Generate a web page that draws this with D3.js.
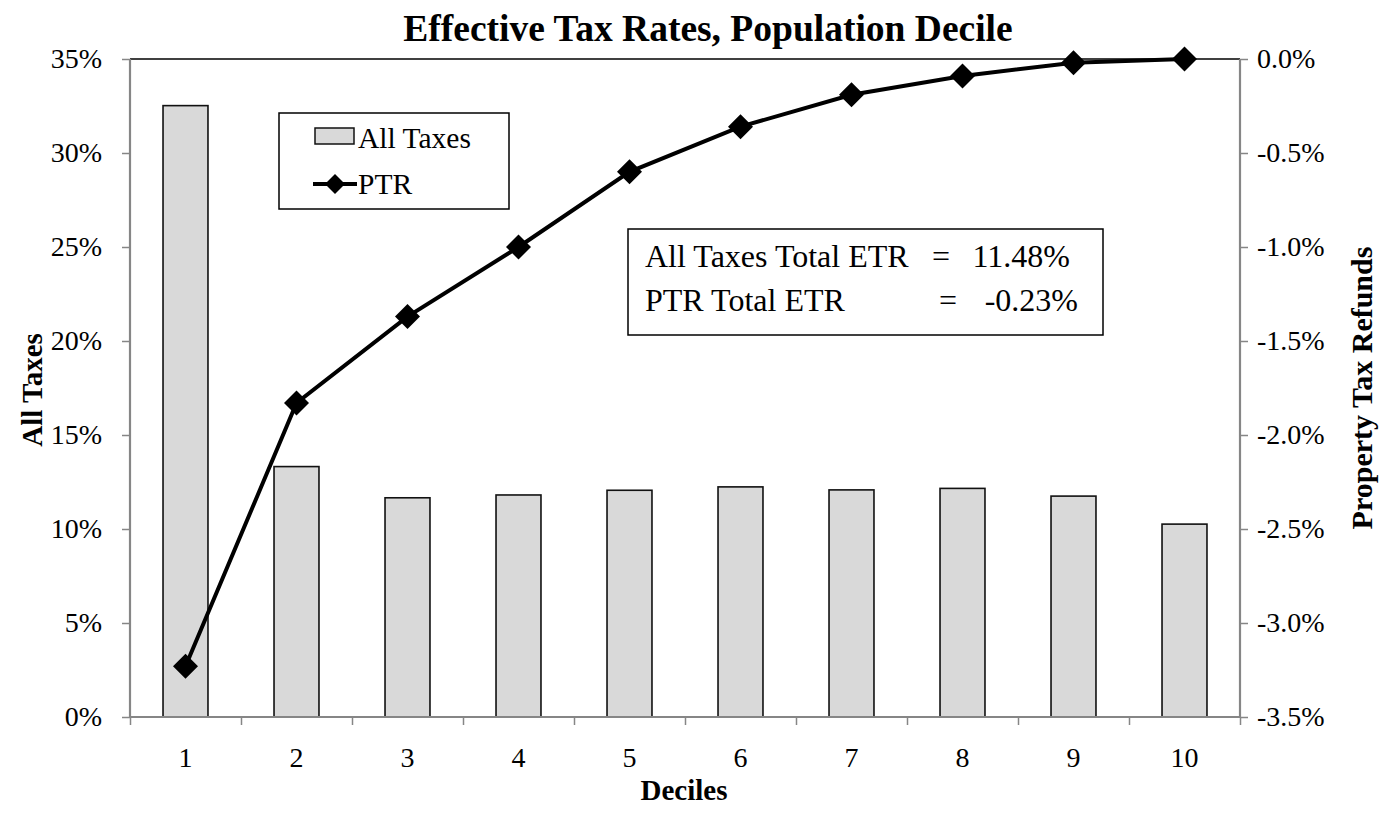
<!DOCTYPE html>
<html>
<head>
<meta charset="utf-8">
<script src="https://cdn.jsdelivr.net/npm/d3@7"></script>
<style>
  body { margin: 0; background: #fff; }
  svg { display: block; font-family: "Liberation Serif", "Times New Roman", serif; }
</style>
</head>
<body>
<svg id="chart" width="1390" height="823"></svg>
<script>
const deciles = ["1","2","3","4","5","6","7","8","9","10"];
const allTaxes = [32.52, 13.32, 11.66, 11.81, 12.06, 12.24, 12.08, 12.16, 11.75, 10.26];
const ptr = [-3.23, -1.83, -1.37, -1.00, -0.60, -0.36, -0.19, -0.09, -0.02, 0.00];
const leftTicks = [0, 5, 10, 15, 20, 25, 30, 35];
const rightTicks = [0, -0.5, -1.0, -1.5, -2.0, -2.5, -3.0, -3.5];
const titleText = "Effective Tax Rates, Population Decile";
const leftTitle = "All Taxes";
const rightTitle = "Property Tax Refunds";
const xTitle = "Deciles";
const legendLabels = ["All Taxes", "PTR"];
const noteRows = [["All Taxes Total ETR", "=", "11.48%"], ["PTR Total ETR", "=", "-0.23%"]];

const FONT = "Liberation Serif, Times New Roman, serif";
const svg = d3.select("#chart");
const L = 130, R = 1240, T = 59, B = 717;
const axisGray = "#868686";

const x = d3.scaleBand().domain(deciles).range([L, R]).paddingInner(0.595).paddingOuter(0.2975);
const xb = d3.scaleBand().domain(deciles).range([L, R]);
const yL = d3.scaleLinear().domain([0, 35]).range([B, T]);
const yR = d3.scaleLinear().domain([-3.5, 0]).range([B, T]);

// Bars
svg.append("g").selectAll("rect").data(allTaxes).join("rect")
  .attr("x", (d, i) => x(deciles[i]))
  .attr("y", d => yL(d))
  .attr("width", x.bandwidth())
  .attr("height", d => yL(0) - yL(d))
  .attr("fill", "#d9d9d9")
  .attr("stroke", "#111")
  .attr("stroke-width", 1.6);

// Top border
svg.append("line").attr("x1", L).attr("x2", R).attr("y1", T).attr("y2", T)
  .attr("stroke", "#000").attr("stroke-width", 1.5);

const fmtR = d => (d < 0 ? "-" : "") + Math.abs(d).toFixed(1) + "%";

// Left axis
const gL = svg.append("g").attr("transform", `translate(${L},0)`)
  .call(d3.axisLeft(yL).tickValues(leftTicks).tickFormat(d => d + "%").tickSize(8).tickPadding(20));
// Right axis
const gR = svg.append("g").attr("transform", `translate(${R},0)`)
  .call(d3.axisRight(yR).tickValues(rightTicks).tickFormat(fmtR).tickSize(8).tickPadding(9));
// Bottom axis (ticks at category boundaries)
const boundaries = deciles.map(d => xb(d)).concat([R]);
const gB = svg.append("g").attr("transform", `translate(0,${B})`)
  .call(d3.axisBottom(d3.scaleLinear().domain([L, R]).range([L, R])).tickValues(boundaries).tickFormat("").tickSize(8));
svg.append("g").selectAll("text").data(deciles).join("text")
  .attr("x", d => xb(d) + xb.bandwidth() / 2)
  .attr("y", 767)
  .attr("text-anchor", "middle")
  .attr("font-size", 28)
  .attr("font-family", FONT)
  .attr("fill", "#000")
  .text(d => d);

[gL, gR, gB].forEach(g => {
  g.attr("font-family", FONT).attr("font-size", 28);
  g.select(".domain").attr("stroke", axisGray).attr("stroke-width", 2.2);
  g.selectAll(".tick line").attr("stroke", axisGray).attr("stroke-width", 1.5);
  g.selectAll(".tick text").attr("font-size", 28).attr("fill", "#000").attr("font-family", FONT);
});
gL.select(".domain").attr("d", `M0,${B}V${T}`);
gR.select(".domain").attr("d", `M0,${B}V${T}`);
gB.select(".domain").attr("d", `M${L},0H${R}`);

// PTR line
const cx = (i) => xb(deciles[i]) + xb.bandwidth() / 2;
const line = d3.line().x((d, i) => cx(i)).y(d => yR(d));
svg.append("path").datum(ptr).attr("d", line)
  .attr("fill", "none").attr("stroke", "#000").attr("stroke-width", 4);
const diamond = (s) => `M0,${-s}L${s},0L0,${s}L${-s},0Z`;
svg.append("g").selectAll("path").data(ptr).join("path")
  .attr("transform", (d, i) => `translate(${cx(i)},${yR(d)})`)
  .attr("d", diamond(12.5))
  .attr("fill", "#000");

// Title
svg.append("text").attr("x", 708).attr("y", 41).attr("text-anchor", "middle")
  .attr("font-size", 37.5).attr("font-weight", "bold").attr("font-family", FONT).text(titleText);

// Axis titles
svg.append("text").attr("transform", "translate(42,390) rotate(-90)")
  .attr("text-anchor", "middle").attr("font-size", 29).attr("font-weight", "bold").attr("font-family", FONT).text(leftTitle);
svg.append("text").attr("transform", "translate(1372,388) rotate(-90)")
  .attr("text-anchor", "middle").attr("font-size", 30).attr("font-weight", "bold").attr("font-family", FONT).text(rightTitle);
svg.append("text").attr("x", 684).attr("y", 800).attr("text-anchor", "middle")
  .attr("font-size", 29).attr("font-weight", "bold").attr("font-family", FONT).text(xTitle);

// Legend
const lg = svg.append("g").attr("font-family", FONT);
lg.append("rect").attr("x", 279).attr("y", 113).attr("width", 230).attr("height", 96)
  .attr("fill", "#fff").attr("stroke", "#000").attr("stroke-width", 1.5);
lg.append("rect").attr("x", 315).attr("y", 128).attr("width", 39).attr("height", 16)
  .attr("fill", "#d9d9d9").attr("stroke", "#111").attr("stroke-width", 1.5);
lg.append("text").attr("x", 358).attr("y", 148).attr("font-size", 29.5).text(legendLabels[0]);
lg.append("line").attr("x1", 313).attr("x2", 357).attr("y1", 184).attr("y2", 184)
  .attr("stroke", "#000").attr("stroke-width", 4);
lg.append("path").attr("transform", "translate(335,184)").attr("d", diamond(10)).attr("fill", "#000");
lg.append("text").attr("x", 358).attr("y", 194).attr("font-size", 29.5).text(legendLabels[1]);

// Note box
const nb = svg.append("g").attr("font-family", FONT);
nb.append("rect").attr("x", 628).attr("y", 229).attr("width", 475).attr("height", 106)
  .attr("fill", "#fff").attr("stroke", "#000").attr("stroke-width", 1.5);
const rowY = [267, 311];
const eqX = [941, 948];
const valX = [1070, 1078];
noteRows.forEach((r, i) => {
  nb.append("text").attr("x", 645).attr("y", rowY[i]).attr("font-size", 32).text(r[0]);
  nb.append("text").attr("x", eqX[i]).attr("y", rowY[i]).attr("text-anchor", "middle").attr("font-size", 32).text(r[1]);
  nb.append("text").attr("x", valX[i]).attr("y", rowY[i]).attr("text-anchor", "end").attr("font-size", 32).text(r[2]);
});
</script>
</body>
</html>
